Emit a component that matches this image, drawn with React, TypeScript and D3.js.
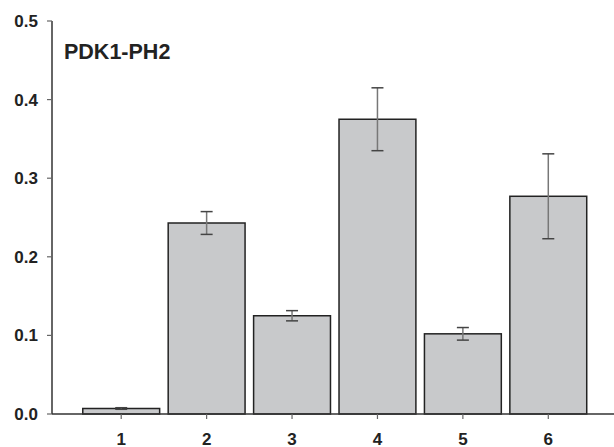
import React from "react";
import * as d3 from "d3";

// values
const categories = ["1", "2", "3", "4", "5", "6"];
const means = [0.007, 0.243, 0.125, 0.375, 0.102, 0.277];
const errors = [0.001, 0.0145, 0.0065, 0.04, 0.008, 0.054];
const yTicks = [0.0, 0.1, 0.2, 0.3, 0.4, 0.5];
const title = "PDK1-PH2";

const W = 614;
const H = 447;
const axisX = 52;
const axisY = 414;
const topY = 21;

const App = () => {
  const x = d3
    .scaleBand<string>()
    .domain(categories)
    .range([78.5, 591])
    .paddingInner(0.1)
    .paddingOuter(0.05);

  const y = d3.scaleLinear().domain([0, 0.5]).range([axisY, topY]);

  const font = "'Liberation Sans', Arial, Helvetica, sans-serif";

  return (
    <svg
      width={W}
      height={H}
      style={{ position: "absolute", left: 0, top: 0, background: "#fff" }}
      fontFamily={font}
    >
      {/* bars */}
      {categories.map((c, i) => (
        <rect
          key={c}
          x={x(c)!}
          y={y(means[i])}
          width={x.bandwidth()}
          height={axisY - y(means[i])}
          fill="#c8c9cb"
          stroke="#222"
          strokeWidth={1.5}
        />
      ))}

      {/* error bars */}
      {categories.map((c, i) => {
        const cx = x(c)! + x.bandwidth() / 2;
        const hi = y(means[i] + errors[i]);
        const lo = y(means[i] - errors[i]);
        return (
          <g key={"e" + c}>
            <line x1={cx} x2={cx} y1={hi} y2={lo} stroke="#777" strokeWidth={1.5} />
            <line x1={cx - 6} x2={cx + 6} y1={hi} y2={hi} stroke="#444" strokeWidth={1.5} />
            <line x1={cx - 6} x2={cx + 6} y1={lo} y2={lo} stroke="#444" strokeWidth={1.5} />
          </g>
        );
      })}

      {/* y axis */}
      <line x1={axisX} x2={axisX} y1={topY} y2={axisY} stroke="#333" strokeWidth={1.5} />
      {yTicks.map((t) => (
        <g key={"y" + t}>
          <line x1={axisX - 5} x2={axisX} y1={y(t)} y2={y(t)} stroke="#666" strokeWidth={1.2} />
          <text
            x={38}
            y={y(t)}
            dy="0.35em"
            textAnchor="end"
            fontSize={17}
            fontWeight="bold"
            fill="#222"
          >
            {d3.format(".1f")(t)}
          </text>
        </g>
      ))}

      {/* x axis */}
      <line x1={axisX} x2={W} y1={axisY} y2={axisY} stroke="#333" strokeWidth={1.5} />
      {categories.map((c) => {
        const cx = x(c)! + x.bandwidth() / 2;
        return (
          <g key={"x" + c}>
            <line x1={cx} x2={cx} y1={axisY} y2={axisY + 5} stroke="#666" strokeWidth={1.2} />
            <text x={cx} y={445} textAnchor="middle" fontSize={17} fontWeight="bold" fill="#222">
              {c}
            </text>
          </g>
        );
      })}

      {/* panel title */}
      <text x={64} y={59} fontSize={21.5} fontWeight="bold" fill="#222">
        {title}
      </text>
    </svg>
  );
};

export default App;
